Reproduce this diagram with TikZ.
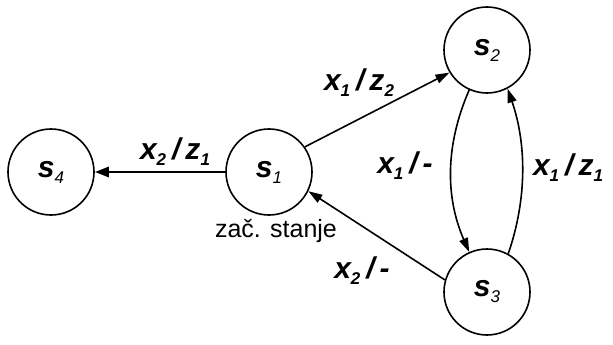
\documentclass[tikz,border=0pt]{standalone}
\usepackage{fontspec}
\setmainfont{Liberation Sans}
\usetikzlibrary{arrows.meta}
\newcommand{\vr}[2]{\textbf{\textit{#1}}\raisebox{-6pt}{\fontsize{17}{17}\selectfont\textit{#2}}}
\newcommand{\sep}{\hspace{6pt}/\hspace{5pt}}
\begin{document}
\begin{tikzpicture}[x=1pt,y=-1pt,
  state/.style={circle,draw,line width=1.6pt,minimum size=86pt,inner sep=0pt,font=\fontsize{30}{32}\selectfont},
  lbl/.style={anchor=base,inner sep=0pt,font=\fontsize{30}{32}\selectfont\bfseries\itshape},
  arr/.style={line width=1.6pt,-{Triangle[length=14pt,width=9pt]}},
  thickarr/.style={line width=2.8pt,-{Triangle[length=14pt,width=10pt]}}]
\useasboundingbox (0,0) rectangle (613,345);
\node[state] (s1) at (269,172) {\vr{s}{1}};
\node[state] (s2) at (487,50) {\vr{s}{2}};
\node[state] (s3) at (487,292) {\vr{s}{3}};
\node[state] (s4) at (51,172) {\vr{s}{4}};
\draw[thickarr] (s1.west) -- (s4.east);
\draw[arr] (s1.35) -- (s2.211);
\draw[arr] (s2.-114) .. controls +(-24,55) and +(-24,-55) .. (s3.114);
\draw[arr] (s3.61) .. controls +(19,-55) and +(19,55) .. (s2.-62);
\draw[arr] (s3.164) -- (s1.-26);
\node[lbl] (l1) at (175,159) {\vr{x}{2}\sep\vr{z}{1}};
\node[lbl] (l2) at (359,90) {\vr{x}{1}\sep\vr{z}{2}};
\node[lbl] (l3) at (405,173) {\vr{x}{1}\sep-};
\node[lbl] (l4) at (568,175) {\vr{x}{1}\sep\vr{z}{1}};
\node[lbl] (l5) at (362,278) {\vr{x}{2}\sep-};
\node[anchor=base,inner sep=0pt,font=\fontsize{25}{28}\selectfont] (l6) at (276,237) {zač. stanje};
\end{tikzpicture}
\end{document}
